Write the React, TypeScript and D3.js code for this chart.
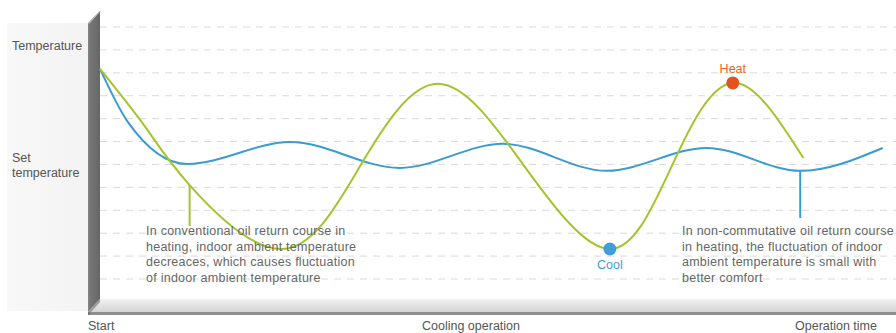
import React from "react";
import * as d3 from "d3";

// ---- data (time in % of operation, temperature in grid units) ----
const greenT = [0, 5.7, 11.3, 23.0, 32.8, 42.6, 53.5, 64.3, 72.1, 79.8, 88.7];
const greenV = [9.17, 6.64, 4.10, 1.31, 4.93, 8.52, 4.93, 1.31, 4.93, 8.56, 5.28];
const blueT = [0, 3.5, 11.0, 24.0, 37.8, 50.8, 63.9, 76.5, 88.3, 98.7];
const blueV = [9.17, 6.86, 5.02, 5.98, 4.85, 5.90, 4.72, 5.72, 4.72, 5.72];
const gridLevels = [0, 1, 2, 3, 4, 5, 6, 7, 8, 9, 10, 11];
const heatPoint = { t: 79.8, v: 8.56, label: "Heat" };
const coolPoint = { t: 64.3, v: 1.31, label: "Cool" };
const greenPointer = { t: 11.3, v0: 4.10, v1: 2.31 };
const bluePointer = { t: 88.3, v0: 4.72, v1: 2.66 };
const yLabels = [["Temperature"], ["Set", "temperature"]];
const xLabels = ["Start", "Cooling operation", "Operation time"];
const leftNote = [
  "In conventional oil return course in",
  "heating, indoor ambient temperature",
  "decreaces, which causes fluctuation",
  "of indoor ambient temperature",
];
const rightNote = [
  "In non-commutative oil return course",
  "in heating, the fluctuation of indoor",
  "ambient temperature is small with",
  "better comfort",
];

const W = 896;
const H = 333;
const GREEN = "#a3c42c";
const BLUE = "#3a9bd3";
const FONT = "'Liberation Sans', Arial, sans-serif";

export default function App() {
  const x = d3.scaleLinear().domain([0, 100]).range([100, 893]);
  const y = d3.scaleLinear().domain([0, 11]).range([279, 27]);
  const greenLine = d3
    .line<[number, number]>()
    .x((d) => x(d[0]))
    .y((d) => y(d[1]))
    .curve(d3.curveNatural);
  const blueLine = d3
    .line<[number, number]>()
    .x((d) => x(d[0]))
    .y((d) => y(d[1]))
    .curve(d3.curveMonotoneX);
  const greenPath = greenLine(greenT.map((t, i) => [t, greenV[i]]) as [number, number][]) || "";
  const bluePath = blueLine(blueT.map((t, i) => [t, blueV[i]]) as [number, number][]) || "";

  const noteStyle = { fontFamily: FONT, fontSize: 12.5, fill: "#666", letterSpacing: 0.25 } as const;
  const labelStyle = { fontFamily: FONT, fontSize: 12.5, fill: "#555" } as const;

  return (
    <svg width={W} height={H} style={{ position: "absolute", left: 0, top: 0, background: "#fff" }}>
      <defs>
        <linearGradient id="floorG" x1="0" y1="0" x2="0" y2="1">
          <stop offset="0" stopColor="#f2f2f2" />
          <stop offset="1" stopColor="#d4d4d4" />
        </linearGradient>
        <linearGradient id="wallG" x1="0" y1="0" x2="1" y2="0">
          <stop offset="0" stopColor="#8a8a8a" />
          <stop offset="0.15" stopColor="#777" />
          <stop offset="1" stopColor="#666" />
        </linearGradient>
        <linearGradient id="panelG" x1="0" y1="0" x2="1" y2="0">
          <stop offset="0" stopColor="#f8f8f8" />
          <stop offset="1" stopColor="#f3f3f3" />
        </linearGradient>
      </defs>
      <rect x={7} y={23} width={81} height={288} fill="url(#panelG)" />

      {/* grid */}
      {gridLevels.map((g) => (
        <line key={g} x1={100} x2={896} y1={y(g)} y2={y(g)} stroke="#d9d9d9" strokeWidth={1} strokeDasharray="7 6" />
      ))}

      {/* floor */}
      <polygon points="100,299 896,299 896,312 88,312" fill="url(#floorG)" />
      <rect x={88} y={312} width={808} height={3} fill="#8e8e8e" />
      {/* wall */}
      <polygon points="88,23 100,11 100,299 88,312" fill="url(#wallG)" />
      <polygon points="88,312 100,299 100,302 91,312" fill="#9a9a9a" />
      <polygon points="88,23 100,11 101,11 89,24" fill="#bbb" />
      <rect x={88} y={312} width={2} height={3} fill="#777" />

      {/* pointers */}
      <line x1={x(greenPointer.t)} x2={x(greenPointer.t)} y1={y(greenPointer.v0)} y2={y(greenPointer.v1)} stroke={GREEN} strokeWidth={2} />
      <line x1={x(bluePointer.t)} x2={x(bluePointer.t)} y1={y(bluePointer.v0)} y2={y(bluePointer.v1)} stroke={BLUE} strokeWidth={2} />

      {/* curves */}
      <path d={bluePath} fill="none" stroke={BLUE} strokeWidth={2} />
      <path d={greenPath} fill="none" stroke={GREEN} strokeWidth={2} />

      {/* markers */}
      <circle cx={x(heatPoint.t)} cy={y(heatPoint.v)} r={6.5} fill="#e4521c" />
      <text x={x(heatPoint.t)} y={y(heatPoint.v) - 10} textAnchor="middle" style={{ fontFamily: FONT, fontSize: 12.5, fill: "#e8622c" }}>
        {heatPoint.label}
      </text>
      <circle cx={x(coolPoint.t)} cy={y(coolPoint.v)} r={6.5} fill="#3f9dd8" />
      <text x={x(coolPoint.t)} y={y(coolPoint.v) + 20} textAnchor="middle" style={{ fontFamily: FONT, fontSize: 12.5, fill: "#3f9dd8" }}>
        {coolPoint.label}
      </text>

      {/* notes */}
      {leftNote.map((s, i) => (
        <text key={"l" + i} x={146} y={235 + i * 15.6} style={noteStyle}>
          {s}
        </text>
      ))}
      {rightNote.map((s, i) => (
        <text key={"r" + i} x={682} y={235 + i * 15.6} style={noteStyle}>
          {s}
        </text>
      ))}

      {/* y labels */}
      <text x={12} y={50} style={labelStyle}>{yLabels[0][0]}</text>
      <text x={12} y={162} style={labelStyle}>{yLabels[1][0]}</text>
      <text x={12} y={177} style={labelStyle}>{yLabels[1][1]}</text>

      {/* x labels */}
      <text x={88} y={330} style={labelStyle}>{xLabels[0]}</text>
      <text x={471} y={330} textAnchor="middle" style={labelStyle}>{xLabels[1]}</text>
      <text x={795} y={330} style={labelStyle}>{xLabels[2]}</text>
    </svg>
  );
}
